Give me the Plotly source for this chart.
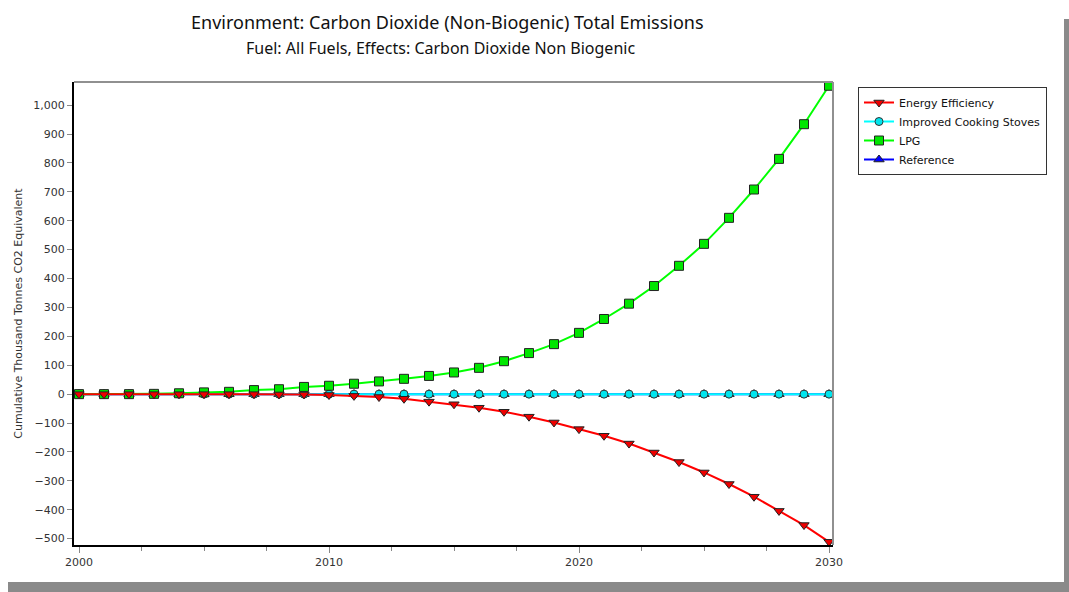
import plotly.graph_objects as go

years = list(range(2000, 2031))

energy_efficiency = [
    0, 0, 0, 0, 0, 0, 0, 0, -1, -1,
    -3, -6, -10, -16, -26, -35, -47, -61, -78, -98,
    -121, -144, -171, -202, -235, -271, -311, -355, -404, -453,
    -511,
]
improved_stoves = [0] * 31
lpg = [
    0, 0, 0, 1, 3, 6, 8, 14, 17, 25,
    29, 36, 44, 53, 63, 75, 91, 114, 142, 173,
    212, 260, 313, 374, 444, 520, 610, 708, 814, 934,
    1067,
]
reference = [0] * 31

y_ticks = [-500, -400, -300, -200, -100, 0, 100, 200, 300, 400, 500, 600, 700, 800, 900, 1000]
x_ticks = [2000, 2010, 2020, 2030]

W, H = 1069, 592
L, R, T, B = 74, 833, 82, 545


def px(x):
    """page pixel x -> paper x"""
    return (x - L) / (R - L)


def py(y):
    """page pixel y -> paper y"""
    return (B - y) / (B - T)


fig = go.Figure()

# drawn bottom to top: reference, stoves, LPG, energy efficiency
fig.add_trace(go.Scatter(
    x=years, y=reference, name="Reference", mode="lines+markers",
    line=dict(color="#0000ff", width=2),
    marker=dict(symbol="triangle-up", size=9, color="#0000ff", line=dict(color="#222", width=1)),
    legendrank=4,
))
fig.add_trace(go.Scatter(
    x=years, y=improved_stoves, name="Improved Cooking Stoves", mode="lines+markers",
    line=dict(color="#00ffff", width=2),
    marker=dict(symbol="circle", size=8, color="#00e5ee", line=dict(color="#333", width=1)),
    legendrank=2,
))
fig.add_trace(go.Scatter(
    x=years, y=lpg, name="LPG", mode="lines+markers",
    line=dict(color="#00ff00", width=2),
    marker=dict(symbol="square", size=9, color="#00e600", line=dict(color="#222", width=1)),
    legendrank=3,
))
fig.add_trace(go.Scatter(
    x=years, y=energy_efficiency, name="Energy Efficiency", mode="lines+markers",
    line=dict(color="#ff0000", width=2),
    marker=dict(symbol="triangle-down", size=9, color="#ee0000", line=dict(color="#222", width=1)),
    legendrank=1,
))

shapes = [
    # top and right plot border (gray)
    dict(type="line", xref="paper", yref="paper", x0=0, x1=1, y0=1, y1=1,
         line=dict(color="#909090", width=2)),
    dict(type="line", xref="paper", yref="paper", x0=1, x1=1, y0=0, y1=1,
         line=dict(color="#909090", width=2)),
    # gray frame shadow on the right and bottom of the image
    dict(type="rect", xref="paper", yref="paper", x0=px(1064), x1=px(1070),
         y0=py(593), y1=py(19), fillcolor="#8a8a8a", line_width=0),
    dict(type="rect", xref="paper", yref="paper", x0=px(8), x1=px(1070),
         y0=py(593), y1=py(582), fillcolor="#8a8a8a", line_width=0),
]

annotations = [
    dict(text="Environment: Carbon Dioxide (Non-Biogenic) Total Emissions",
         xref="paper", yref="paper", x=px(447), y=py(22), showarrow=False,
         xanchor="center", yanchor="middle",
         font=dict(family="Noto Sans", size=18, color="#111")),
    dict(text="Fuel: All Fuels, Effects: Carbon Dioxide Non Biogenic",
         xref="paper", yref="paper", x=px(440), y=py(48), showarrow=False,
         xanchor="center", yanchor="middle",
         font=dict(family="Noto Sans", size=16, color="#111")),
]

fig.update_layout(
    width=W, height=H,
    margin=dict(l=L, r=W - R, t=T, b=H - B),
    paper_bgcolor="white", plot_bgcolor="white",
    font=dict(family="DejaVu Sans", size=11, color="#333"),
    showlegend=True,
    legend=dict(
        x=px(858), y=py(87), xanchor="left", yanchor="top",
        bgcolor="white", bordercolor="#333", borderwidth=1,
        font=dict(family="DejaVu Sans", size=11, color="#111"),
        itemwidth=30, tracegroupgap=0,
    ),
    xaxis=dict(
        range=[1999.8, 2030.16], tickvals=x_ticks, ticktext=[str(v) for v in x_ticks],
        showgrid=False, zeroline=False,
        showline=True, linecolor="black", linewidth=2,
        ticks="outside", ticklen=6, tickcolor="#888",
        minor=dict(dtick=2.5, tick0=2000, ticks="outside", ticklen=4, tickcolor="#888", showgrid=False),
        tickfont=dict(family="DejaVu Sans", size=11, color="#333"),
    ),
    yaxis=dict(
        range=[-522, 1080], tickvals=y_ticks,
        tickformat=",d",
        showgrid=False, zeroline=False,
        showline=True, linecolor="black", linewidth=2,
        ticks="outside", ticklen=5, tickcolor="#888",
        tickfont=dict(family="DejaVu Sans", size=11, color="#333"),
        title=dict(text="Cumulative Thousand Tonnes CO2 Equivalent", standoff=8,
                   font=dict(family="DejaVu Sans", size=11, color="#333")),
    ),
    shapes=shapes,
    annotations=annotations,
)

# drop the default 8px page margin so the figure sits at the window's corner
fig.write_html(
    "out.html",
    config={"displayModeBar": False},
    post_script="document.body.style.margin='0';document.body.style.overflow='hidden';",
)
